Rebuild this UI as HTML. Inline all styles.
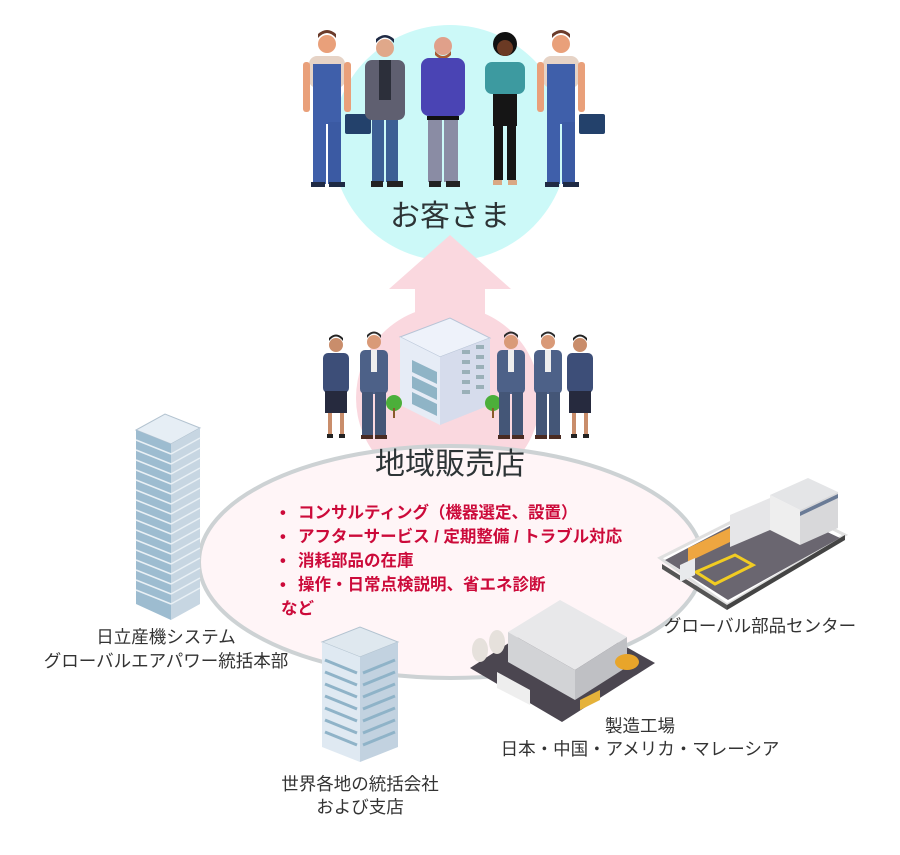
<!DOCTYPE html>
<html><head><meta charset="utf-8"><style>
html,body{margin:0;padding:0;background:#fff;}
svg{display:block}
text{font-family:"Liberation Sans","Noto Sans CJK JP",sans-serif;}
</style></head><body>
<svg width="900" height="855" viewBox="0 0 900 855" xmlns="http://www.w3.org/2000/svg">
<defs>
<g id="worker">
  <circle cx="0" cy="-142" r="9" fill="#e9a07a"/>
  <path d="M-9,-148 q9,-10 18,0 v-4 q-9,-8 -18,0z" fill="#6b3b2a"/>
  <rect x="-18" y="-130" width="36" height="32" rx="8" fill="#e6d3c6"/>
  <rect x="-14" y="-122" width="28" height="60" fill="#3f5faa"/>
  <rect x="-14" y="-64" width="13" height="62" fill="#3f5faa"/>
  <rect x="1" y="-64" width="13" height="62" fill="#3b5aa3"/>
  <rect x="-16" y="-4" width="14" height="5" fill="#1f2a44"/>
  <rect x="2" y="-4" width="16" height="5" fill="#1f2a44"/>
  <rect x="-24" y="-124" width="7" height="50" rx="3" fill="#e9a07a"/>
  <rect x="17" y="-124" width="7" height="50" rx="3" fill="#e9a07a"/>
  <rect x="18" y="-72" width="26" height="20" rx="2" fill="#23416b"/>
</g>
<g id="suit">
  <circle cx="0" cy="-96" r="7" fill="#d99a78"/>
  <path d="M-7,-100 q7,-9 14,0 v-3 q-7,-7 -14,0z" fill="#2b2b2b"/>
  <rect x="-14" y="-88" width="28" height="44" rx="5" fill="#4d6188"/>
  <rect x="-3" y="-88" width="6" height="22" fill="#eee"/>
  <rect x="-12" y="-46" width="11" height="44" fill="#445677"/>
  <rect x="1" y="-46" width="11" height="44" fill="#445677"/>
  <rect x="-13" y="-3" width="12" height="4" fill="#4a2b22"/>
  <rect x="1" y="-3" width="12" height="4" fill="#4a2b22"/>
</g>
<g id="suitw">
  <circle cx="0" cy="-92" r="7" fill="#c98d6b"/>
  <path d="M-7,-96 q7,-9 14,0 v-3 q-7,-7 -14,0z" fill="#222"/>
  <rect x="-13" y="-84" width="26" height="40" rx="5" fill="#3d4e78"/>
  <rect x="-11" y="-46" width="22" height="22" fill="#262a3e"/>
  <rect x="-8" y="-24" width="4" height="22" fill="#c98d6b"/>
  <rect x="4" y="-24" width="4" height="22" fill="#c98d6b"/>
  <rect x="-9" y="-3" width="6" height="4" fill="#222"/>
  <rect x="3" y="-3" width="6" height="4" fill="#222"/>
</g>
</defs>

<circle cx="450" cy="143" r="118" fill="#ccf9f8"/>
<circle cx="448" cy="398" r="92" fill="#fad8df"/>
<ellipse cx="451" cy="562" rx="252" ry="116" fill="#fff5f7" stroke="#cdd2d4" stroke-width="4"/>
<path d="M450,235 L511,289 L485,289 L485,345 L415,345 L415,289 L389,289 Z" fill="#fad8df"/>

<use href="#worker" transform="translate(327,186)"/>
<g transform="translate(385,186)">
  <circle cx="0" cy="-138" r="9" fill="#e0a88a"/>
  <path d="M-9,-143 q9,-11 18,0 v-4 q-9,-8 -18,0z" fill="#1f2a44"/>
  <rect x="-20" y="-126" width="40" height="60" rx="7" fill="#5f5f70"/>
  <rect x="-6" y="-126" width="12" height="40" fill="#2c2f3a"/>
  <rect x="-13" y="-66" width="12" height="62" fill="#3c5f94"/>
  <rect x="1" y="-66" width="12" height="62" fill="#3c5f94"/>
  <rect x="-14" y="-5" width="12" height="6" fill="#222"/><rect x="2" y="-5" width="16" height="6" fill="#222"/>
</g>
<g transform="translate(443,186)">
  <circle cx="0" cy="-140" r="9" fill="#e0a08a"/>
  <path d="M-8,-135 q8,10 16,0 v4 q-8,8 -16,0z" fill="#a85b35"/>
  <rect x="-22" y="-128" width="44" height="58" rx="8" fill="#4a44b4"/>
  <rect x="-16" y="-70" width="32" height="4" fill="#111"/>
  <rect x="-15" y="-66" width="14" height="62" fill="#8a8ca4"/>
  <rect x="1" y="-66" width="14" height="62" fill="#8a8ca4"/>
  <rect x="-14" y="-5" width="12" height="6" fill="#222"/><rect x="3" y="-5" width="14" height="6" fill="#222"/>
</g>
<g transform="translate(505,186)">
  <circle cx="0" cy="-142" r="12" fill="#111"/>
  <circle cx="0" cy="-138" r="8" fill="#6b3a24"/>
  <rect x="-20" y="-124" width="40" height="32" rx="7" fill="#3d9aa0"/>
  <rect x="-12" y="-92" width="24" height="32" fill="#151515"/>
  <rect x="-11" y="-62" width="9" height="56" fill="#151515"/>
  <rect x="2" y="-62" width="9" height="56" fill="#151515"/>
  <rect x="-12" y="-6" width="9" height="5" fill="#d9a884"/><rect x="3" y="-6" width="9" height="5" fill="#d9a884"/>
</g>
<use href="#worker" transform="translate(561,186)"/>
<text x="450" y="226" text-anchor="middle" font-size="30" fill="#2d3436">お客さま</text>

<path d="M400,337 L450,318 L490,338 L440,357 Z" fill="#eef2fa" stroke="#b8c4d6"/>
<path d="M400,337 L440,357 L440,425 L400,405 Z" fill="#e6ecf6"/>
<path d="M440,357 L490,338 L490,405 L440,425 Z" fill="#d6dcec"/>
<g fill="#8fb4c6">
<path d="M412,360 L437,372 L437,384 L412,372Z"/><path d="M412,376 L437,388 L437,400 L412,388Z"/><path d="M412,392 L437,404 L437,416 L412,404Z"/>
</g>
<g fill="#9ab0b8">
<rect x="462" y="350" width="8" height="4"/><rect x="476" y="345" width="8" height="4"/>
<rect x="462" y="360" width="8" height="4"/><rect x="476" y="355" width="8" height="4"/>
<rect x="462" y="370" width="8" height="4"/><rect x="476" y="365" width="8" height="4"/>
<rect x="462" y="380" width="8" height="4"/><rect x="476" y="375" width="8" height="4"/>
<rect x="462" y="390" width="8" height="4"/><rect x="476" y="385" width="8" height="4"/>
</g>
<circle cx="394" cy="403" r="8" fill="#4caf3a"/><rect x="393" y="408" width="2" height="10" fill="#8a5a2b"/>
<circle cx="493" cy="403" r="8" fill="#4caf3a"/><rect x="492" y="408" width="2" height="10" fill="#8a5a2b"/>
<use href="#suitw" transform="translate(336,437)"/>
<use href="#suit" transform="translate(374,438)"/>
<use href="#suit" transform="translate(511,438)"/>
<use href="#suit" transform="translate(548,438)"/>
<use href="#suitw" transform="translate(580,437)"/>

<text x="450" y="474" text-anchor="middle" font-size="30" fill="#2d3436">地域販売店</text>
<g font-size="16.5" fill="#cc0a3a" font-weight="bold">
<text x="280" y="518">•</text><text x="298" y="518">コンサルティング（機器選定、設置）</text>
<text x="280" y="542">•</text><text x="298" y="542">アフターサービス / 定期整備 / トラブル対応</text>
<text x="280" y="566">•</text><text x="298" y="566">消耗部品の在庫</text>
<text x="280" y="590">•</text><text x="298" y="590">操作・日常点検説明、省エネ診断</text>
<text x="281" y="614">など</text>
</g>

<path d="M136,430 L165,414 L200,428 L171,444 Z" fill="#e6eef5" stroke="#b3c3d0"/>
<path d="M136,430 L171,444 L171,620 L136,604 Z" fill="#9dbcd0"/>
<path d="M171,444 L200,428 L200,604 L171,620 Z" fill="#c7d6e2"/>
<g stroke="#e9f0f5" stroke-width="1.5">
<path d="M136,440 L171,454 M136,450 L171,464 M136,460 L171,474 M136,470 L171,484 M136,480 L171,494 M136,490 L171,504 M136,500 L171,514 M136,510 L171,524 M136,520 L171,534 M136,530 L171,544 M136,540 L171,554 M136,550 L171,564 M136,560 L171,574 M136,570 L171,584 M136,580 L171,594 M136,590 L171,604"/>
<path d="M171,454 L200,438 M171,464 L200,448 M171,474 L200,458 M171,484 L200,468 M171,494 L200,478 M171,504 L200,488 M171,514 L200,498 M171,524 L200,508 M171,534 L200,518 M171,544 L200,528 M171,554 L200,538 M171,564 L200,548 M171,574 L200,558 M171,584 L200,568 M171,594 L200,578 M171,604 L200,588"/>
</g>
<text x="166" y="643" text-anchor="middle" font-size="17.5" fill="#333">日立産機システム</text>
<text x="166" y="667" text-anchor="middle" font-size="17.5" fill="#333">グローバルエアパワー統括本部</text>

<path d="M322,642 L360,627 L398,642 L360,657 Z" fill="#dfe8ef" stroke="#b3c3d0"/>
<path d="M322,642 L360,657 L360,762 L322,747 Z" fill="#dfe9f2"/>
<path d="M360,657 L398,642 L398,747 L360,762 Z" fill="#c2d2e0"/>
<g stroke="#8fb3c8" stroke-width="3">
<path d="M325,660 L357,673 M325,672 L357,685 M325,684 L357,697 M325,696 L357,709 M325,708 L357,721 M325,720 L357,733 M325,732 L357,745"/>
<path d="M363,673 L395,660 M363,685 L395,672 M363,697 L395,684 M363,709 L395,696 M363,721 L395,708 M363,733 L395,720 M363,745 L395,732"/>
</g>
<text x="360" y="790" text-anchor="middle" font-size="17.5" fill="#333">世界各地の統括会社</text>
<text x="360" y="813" text-anchor="middle" font-size="17.5" fill="#333">および支店</text>

<path d="M470,668 L560,610 L655,663 L562,722 Z" fill="#4b4650"/>
<path d="M508,632 L560,600 L627,637 L575,670 Z" fill="#e8e8ea"/>
<path d="M508,632 L575,670 L575,700 L508,662 Z" fill="#d2d3d6"/>
<path d="M575,670 L627,637 L627,667 L575,700 Z" fill="#bfc0c4"/>
<ellipse cx="480" cy="650" rx="8" ry="12" fill="#e6e1dc"/><ellipse cx="497" cy="642" rx="8" ry="12" fill="#e6e1dc"/>
<path d="M497,672 L530,690 L530,705 L497,688Z" fill="#eee"/>
<ellipse cx="627" cy="662" rx="12" ry="8" fill="#e8a52a"/>
<path d="M580,700 L600,690 L600,700 L580,710Z" fill="#e5b23a"/>
<text x="640" y="732" text-anchor="middle" font-size="17.5" fill="#333">製造工場</text>
<text x="640" y="755" text-anchor="middle" font-size="17.5" fill="#333">日本・中国・アメリカ・マレーシア</text>

<path d="M660,558 L775,500 L845,535 L727,605 Z" fill="#fff" stroke="#e0e0e0" stroke-width="3"/>
<path d="M662,564 L727,605 L727,610 L662,569Z" fill="#555"/>
<path d="M727,605 L845,535 L845,540 L727,610Z" fill="#444"/>
<path d="M665,560 L770,505 L840,538 L728,600 Z" fill="#6a6670"/>
<path d="M770,495 L808,478 L838,492 L800,510 Z" fill="#e4e5e7"/>
<path d="M770,495 L800,510 L800,545 L770,530 Z" fill="#eeeeee"/>
<path d="M800,510 L838,492 L838,528 L800,545 Z" fill="#d8d8da"/>
<path d="M800,512 L838,494 L838,498 L800,516Z" fill="#6a7b96"/>
<path d="M730,515 L770,498 L770,530 L730,547Z" fill="#e6e6e8"/>
<path d="M688,548 L730,528 L730,542 L688,562Z" fill="#eea640"/>
<path d="M696,572 L735,555 L753,565 L715,584Z" fill="none" stroke="#f1cc22" stroke-width="3"/>
<path d="M680,565 L695,558 L695,575 L680,582Z" fill="#e8eaec"/>
<text x="760" y="632" text-anchor="middle" font-size="17.5" fill="#333">グローバル部品センター</text>
</svg>
</body></html>
